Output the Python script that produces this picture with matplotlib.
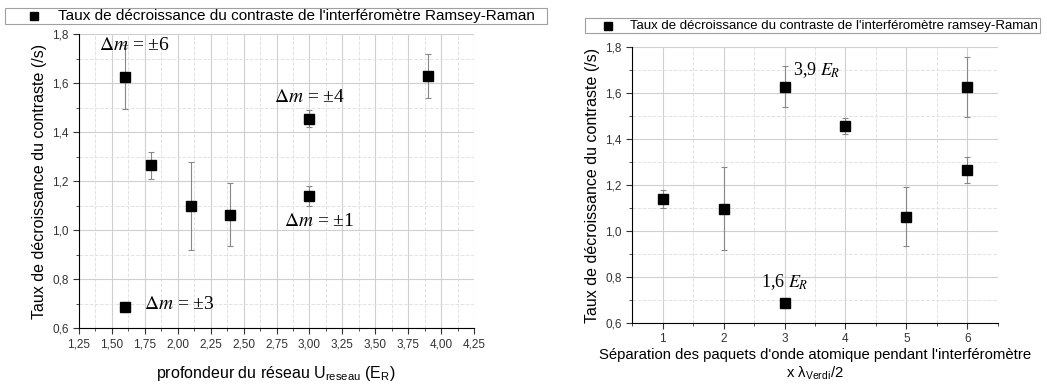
import matplotlib
matplotlib.use("Agg")
import matplotlib.pyplot as plt
from matplotlib.ticker import MultipleLocator, FuncFormatter
from matplotlib.lines import Line2D
from matplotlib.patches import Rectangle

plt.rcParams['font.family'] = ['Liberation Sans', 'DejaVu Sans']
plt.rcParams['mathtext.fontset'] = 'stix'

# left panel: rate vs lattice depth
depth = [1.6, 1.8, 2.1, 2.4, 3.0, 3.0, 1.6, 3.9]
rate_l = [1.625, 1.265, 1.097, 1.063, 1.455, 1.140, 0.685, 1.628]
err_l = [0.13, 0.055, 0.18, 0.13, 0.035, 0.04, 0.02, 0.09]

# right panel: rate vs separation
sep = [1, 2, 3, 3, 4, 5, 6, 6]
rate_r = [1.140, 1.097, 1.628, 0.685, 1.455, 1.063, 1.625, 1.265]
err_r = [0.04, 0.18, 0.09, 0.02, 0.035, 0.13, 0.13, 0.055]

left_notes = [(1.40, 1.755, r'$\Delta m$ = ±6'), (2.73, 1.54, r'$\Delta m$ = ±4'),
              (2.81, 1.035, r'$\Delta m$ = ±1'), (1.74, 0.694, r'$\Delta m$ = ±3')]
right_notes = [(3.14, 1.70, r'3,9 $E_R$'), (2.61, 0.78, r'1,6 $E_R$')]

ylab = 'Taux de décroissance du contraste (/s)'
W, H = 1047, 387

fig = plt.figure(figsize=(10.47, 3.87), dpi=100)
ax1 = fig.add_axes([79 / W, 1 - 328 / H, 395 / W, 294 / H])
ax2 = fig.add_axes([632 / W, 1 - 323 / H, 366 / W, 276 / H])

comma = FuncFormatter(lambda v, p: ('%.2f' % v).replace('.', ','))
comma1 = FuncFormatter(lambda v, p: ('%.1f' % v).replace('.', ','))


def style(ax):
    for s in ['top', 'right']:
        ax.spines[s].set_visible(False)
    ax.set_ylim(0.6, 1.8)
    ax.yaxis.set_major_locator(MultipleLocator(0.2))
    ax.yaxis.set_minor_locator(MultipleLocator(0.1))
    ax.yaxis.set_major_formatter(comma1)
    ax.grid(True, which='major', color='#cfcfcf', lw=0.8)
    ax.grid(True, which='minor', color='#e2e2e2', lw=0.7, ls='--')
    ax.tick_params(which='both', direction='out', labelsize=8.5, colors='#333333')
    ax.tick_params(which='major', length=4)
    ax.tick_params(which='minor', length=2)
    ax.set_axisbelow(True)
    ax.set_ylabel(ylab, fontsize=11.5)


style(ax1)
ax1.set_xlim(1.25, 4.25)
ax1.xaxis.set_major_locator(MultipleLocator(0.25))
ax1.xaxis.set_minor_locator(MultipleLocator(0.125))
ax1.xaxis.set_major_formatter(comma)
ax1.errorbar(depth, rate_l, yerr=err_l, fmt='s', color='black', ms=7,
             ecolor='#888888', elinewidth=0.8, capsize=2.5, capthick=0.8)
ax1.set_xlabel(r'profondeur du réseau U$_{\mathregular{reseau}}$ (E$_{\mathregular{R}}$)',
               fontsize=11.5, labelpad=10)
for x, y, t in left_notes:
    ax1.text(x, y, t, fontsize=14, family='Liberation Serif', va='center')

style(ax2)
ax2.set_xlim(0.5, 6.5)
ax2.xaxis.set_major_locator(MultipleLocator(1))
ax2.xaxis.set_minor_locator(MultipleLocator(0.5))
ax2.xaxis.set_major_formatter(FuncFormatter(lambda v, p: '%d' % v))
ax2.errorbar(sep, rate_r, yerr=err_r, fmt='s', color='black', ms=7,
             ecolor='#888888', elinewidth=0.8, capsize=2.5, capthick=0.8)
ax2.set_xlabel("Séparation des paquets d'onde atomique pendant l'interféromètre\n"
               r"x λ$_{\mathregular{Verdi}}$/2", fontsize=10.7, labelpad=2,
               linespacing=1.2)
for x, y, t in right_notes:
    ax2.text(x, y, t, fontsize=13, family='Liberation Serif', va='center')


# legend boxes drawn by hand (pixel layout of the original)
def legend_box(x0, x1, y0, y1, mx, tx, text, size):
    fig.add_artist(Rectangle((x0 / W, 1 - y1 / H), (x1 - x0) / W, (y1 - y0) / H,
                             transform=fig.transFigure, fill=False,
                             edgecolor='#a0a0a0', lw=0.8))
    yc = 1 - (y0 + y1) / 2 / H
    fig.add_artist(Line2D([mx / W], [yc], marker='s', color='black', ms=6,
                          transform=fig.transFigure))
    fig.text(tx / W, yc, text, fontsize=size, va='center')


legend_box(5, 547, 8, 24, 34, 58,
           "Taux de décroissance du contraste de l'interféromètre Ramsey-Raman", 11)
legend_box(585, 1040, 18, 33, 608, 630,
           "Taux de décroissance du contraste de l'interféromètre ramsey-Raman", 9.5)

fig.savefig('out.png', dpi=100)
